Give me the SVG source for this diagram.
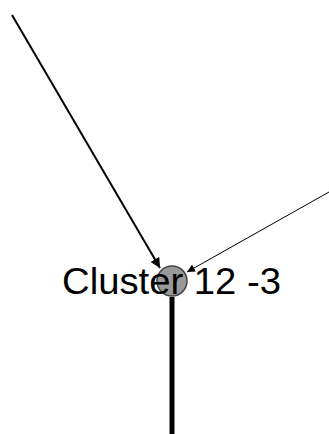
<svg xmlns="http://www.w3.org/2000/svg" width="329" height="434" viewBox="0 0 329 434">
<style>
.lbl{font-family:"Liberation Sans",Arial,sans-serif;font-size:37px;fill:#000}
.edge{stroke:#000;fill:none}
</style>
<defs>
<marker id="ah" viewBox="0 0 10 10" refX="10" refY="5" markerWidth="5" markerHeight="5" orient="auto" markerUnits="strokeWidth">
<path d="M0,0 L10,5 L0,10 z" fill="#000"/>
</marker>
<marker id="ah2" viewBox="0 0 10 10" refX="10" refY="5" markerWidth="8" markerHeight="8" orient="auto" markerUnits="strokeWidth">
<path d="M0,0 L10,5 L0,10 z" fill="#000"/>
</marker>
</defs>
<rect width="329" height="434" fill="#fff"/>
<g id="connectors">
<line class="edge" x1="12" y1="15" x2="160" y2="268" stroke-width="2" marker-end="url(#ah)"/>
<line class="edge" x1="329" y1="192" x2="187" y2="272" stroke-width="1" marker-end="url(#ah2)"/>
<line class="edge" x1="172" y1="297" x2="172" y2="434" stroke-width="5"/>
</g>
<g id="cluster-12-3">
<circle cx="172" cy="281" r="15" fill="#999" stroke="#444" stroke-width="1.5"/>
<text class="lbl" x="62" y="294" textLength="219" lengthAdjust="spacingAndGlyphs">Cluster 12 -3</text>
</g>
</svg>
